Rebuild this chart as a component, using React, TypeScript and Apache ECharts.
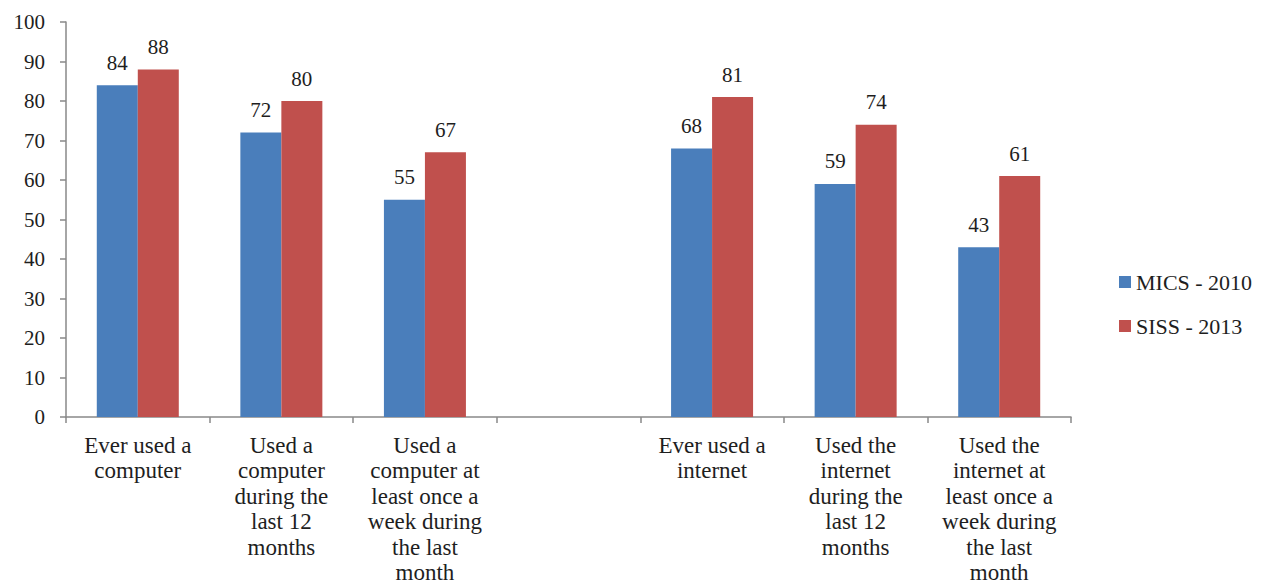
import React, { useEffect, useRef } from "react";
import * as echarts from "echarts";

// Share of respondents (%) by indicator; the fourth slot is a deliberate spacer
const categories = [
  "Ever used a\ncomputer",
  "Used a\ncomputer\nduring the\nlast 12\nmonths",
  "Used a\ncomputer at\nleast once a\nweek during\nthe last\nmonth",
  "",
  "Ever used a\ninternet",
  "Used the\ninternet\nduring the\nlast 12\nmonths",
  "Used the\ninternet at\nleast once a\nweek during\nthe last\nmonth",
];
const seriesNames = ["MICS - 2010", "SISS - 2013"];
const mics2010 = [84, 72, 55, null, 68, 59, 43];
const siss2013 = [88, 80, 67, null, 81, 74, 61];
const yMin = 0;
const yMax = 100;
const yStep = 10;

const FONT = "Liberation Serif";
const AXIS_GREY = "#898989";
const TEXT = "#1e1e1e";
const BLUE = "#4A7EBB";
const RED = "#C0504D";

export default function App() {
  const ref = useRef<HTMLDivElement>(null);

  useEffect(() => {
    if (!ref.current) return;
    const chart = echarts.init(ref.current, undefined, { renderer: "svg" });

    const valueLabel = {
      show: true,
      position: "top" as const,
      distance: 12,
      fontFamily: FONT,
      fontSize: 21,
      color: TEXT,
      formatter: (p: any) => (p.value == null ? "" : String(p.value)),
    };

    chart.setOption({
      animation: false,
      backgroundColor: "#ffffff",
      textStyle: { fontFamily: FONT },
      grid: {
        left: 66,
        top: 22,
        width: 1005,
        height: 395,
        containLabel: false,
        outerBoundsMode: "none",
      },
      legend: {
        orient: "vertical",
        left: 1114,
        top: 266,
        itemWidth: 12,
        itemHeight: 12,
        itemGap: 22,
        icon: "rect",
        textStyle: { fontFamily: FONT, fontSize: 22, color: TEXT },
        data: seriesNames,
      },
      xAxis: {
        type: "category",
        data: categories,
        boundaryGap: true,
        axisLine: { show: true, lineStyle: { color: AXIS_GREY, width: 1.5 } },
        axisTick: { show: true, length: 6, inside: false, lineStyle: { color: AXIS_GREY, width: 1.5 } },
        axisLabel: {
          interval: 0,
          margin: 15.5,
          fontFamily: FONT,
          fontSize: 23,
          lineHeight: 25.5,
          color: TEXT,
          align: "center",
          verticalAlign: "top",
        },
        splitLine: { show: false },
      },
      yAxis: {
        type: "value",
        min: yMin,
        max: yMax,
        interval: yStep,
        axisLine: { show: true, lineStyle: { color: AXIS_GREY, width: 1.5 } },
        axisTick: { show: true, length: 6, lineStyle: { color: AXIS_GREY, width: 1.5 } },
        axisLabel: {
          margin: 21,
          fontFamily: FONT,
          fontSize: 21,
          color: TEXT,
        },
        splitLine: { show: false },
      },
      series: [
        {
          name: seriesNames[0],
          type: "bar",
          data: mics2010,
          barWidth: 41,
          barGap: "0%",
          itemStyle: { color: BLUE },
          label: valueLabel,
        },
        {
          name: seriesNames[1],
          type: "bar",
          data: siss2013,
          barWidth: 41,
          barGap: "0%",
          itemStyle: { color: RED },
          label: valueLabel,
        },
      ],
    });

    return () => chart.dispose();
  }, []);

  return (
    <div
      ref={ref}
      style={{ position: "absolute", left: 0, top: 0, width: 1263, height: 584 }}
    />
  );
}
